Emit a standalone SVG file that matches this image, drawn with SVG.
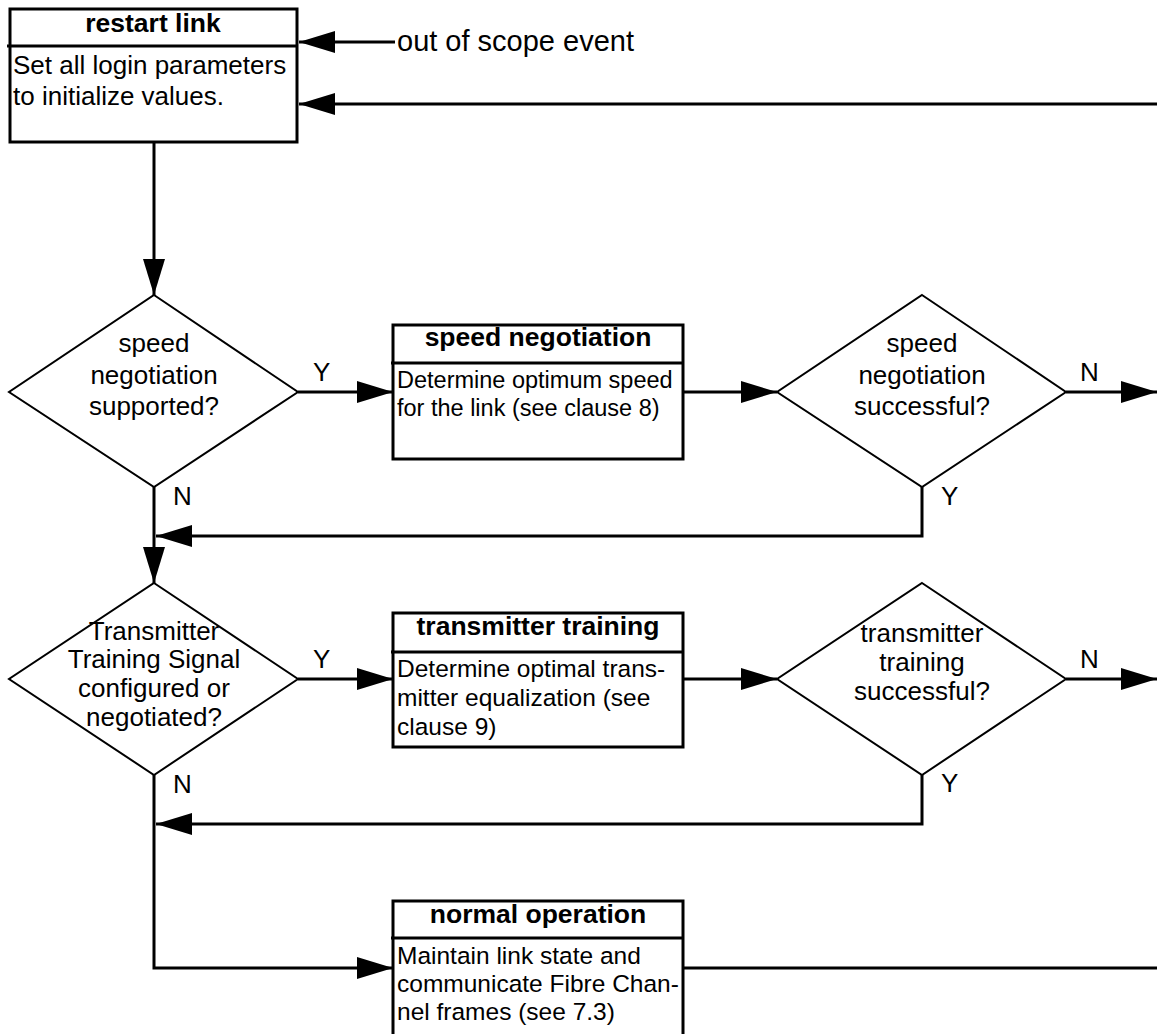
<svg xmlns="http://www.w3.org/2000/svg" width="1157" height="1034" viewBox="0 0 1157 1034">
  <style>
    text { font-family: "Liberation Sans", Arial, sans-serif; fill: #000; }
    .title { font-size: 26.5px; font-weight: bold; text-anchor: middle; }
    .body { font-size: 24.5px; }
    .dec { font-size: 26px; text-anchor: middle; }
    .lbl { font-size: 26px; }
    .box { fill: #fff; stroke: #000; stroke-width: 3; }
    .rule { stroke: #000; stroke-width: 3; }
    .diamond { fill: #fff; stroke: #000; stroke-width: 2; }
    .wire { fill: none; stroke: #000; stroke-width: 3; }
    .arrow { fill: none; stroke: #000; stroke-width: 3; marker-end: url(#head); }
  </style>
  <defs>
    <marker id="head" markerUnits="userSpaceOnUse" markerWidth="36" markerHeight="22" viewBox="0 0 36 22" refX="36" refY="11" orient="auto">
      <path d="M0,0 L36,11 L0,22 Z" fill="#000"/>
    </marker>
  </defs>

  <rect width="1157" height="1034" fill="#fff"/>

  <!-- connectors -->
  <g id="connectors">
    <line class="arrow" x1="395" y1="42" x2="299" y2="42"/>
    <line class="arrow" x1="1157" y1="104" x2="299" y2="104"/>
    <line class="arrow" x1="154" y1="143" x2="154" y2="295"/>
    <line class="arrow" x1="298" y1="392" x2="393" y2="392"/>
    <line class="arrow" x1="683" y1="392" x2="777" y2="392"/>
    <line class="arrow" x1="1066" y1="392" x2="1157" y2="392"/>
    <polyline class="arrow" points="922,487 922,536 156,536"/>
    <line class="arrow" x1="154" y1="487" x2="154" y2="583"/>
    <line class="arrow" x1="298" y1="679" x2="393" y2="679"/>
    <line class="arrow" x1="683" y1="679" x2="777" y2="679"/>
    <line class="arrow" x1="1066" y1="679" x2="1157" y2="679"/>
    <polyline class="arrow" points="922,775 922,824 156,824"/>
    <polyline class="arrow" points="154,775 154,968 393,968"/>
    <line class="wire" x1="683" y1="968" x2="1157" y2="968"/>

    <text class="lbl" x="397" y="51" style="font-size:29px">out of scope event</text>
    <text class="lbl" x="313" y="381">Y</text>
    <text class="lbl" x="173" y="505">N</text>
    <text class="lbl" x="1080" y="381">N</text>
    <text class="lbl" x="941" y="505">Y</text>
    <text class="lbl" x="313" y="668">Y</text>
    <text class="lbl" x="173" y="793">N</text>
    <text class="lbl" x="1080" y="668">N</text>
    <text class="lbl" x="941" y="792">Y</text>
  </g>

  <!-- restart link -->
  <g id="restart-link">
    <rect class="box" x="10" y="9" width="287" height="133"/>
    <line class="rule" x1="7" y1="46" x2="297" y2="46"/>
    <text class="title" x="153" y="32">restart link</text>
    <text class="body" x="13" y="74" style="font-size:26px">Set all login parameters</text>
    <text class="body" x="13" y="105" style="font-size:26px">to initialize values.</text>
  </g>

  <!-- speed negotiation supported? -->
  <g id="speed-supported">
    <polygon class="diamond" points="154,295 298,392 154,487 9,392"/>
    <text class="dec" x="154" y="352">speed</text>
    <text class="dec" x="154" y="384">negotiation</text>
    <text class="dec" x="154" y="415">supported?</text>
  </g>

  <!-- speed negotiation -->
  <g id="speed-negotiation">
    <rect class="box" x="393" y="325" width="290" height="134"/>
    <line class="rule" x1="391" y1="363" x2="683" y2="363"/>
    <text class="title" x="538" y="346">speed negotiation</text>
    <text class="body" x="397" y="388" style="font-size:23.5px">Determine optimum speed</text>
    <text class="body" x="397" y="416" style="font-size:23.5px">for the link (see clause 8)</text>
  </g>

  <!-- speed negotiation successful? -->
  <g id="speed-successful">
    <polygon class="diamond" points="922,295 1066,392 922,487 777,392"/>
    <text class="dec" x="922" y="352">speed</text>
    <text class="dec" x="922" y="384">negotiation</text>
    <text class="dec" x="922" y="415">successful?</text>
  </g>

  <!-- transmitter training signal configured? -->
  <g id="tts-configured">
    <polygon class="diamond" points="154,583 298,679 154,775 9,679"/>
    <text class="dec" x="154" y="640">Transmitter</text>
    <text class="dec" x="154" y="668">Training Signal</text>
    <text class="dec" x="154" y="697">configured or</text>
    <text class="dec" x="154" y="726">negotiated?</text>
  </g>

  <!-- transmitter training -->
  <g id="transmitter-training">
    <rect class="box" x="393" y="613" width="290" height="134"/>
    <line class="rule" x1="391" y1="652" x2="683" y2="652"/>
    <text class="title" x="538" y="635">transmitter training</text>
    <text class="body" x="397" y="677">Determine optimal trans-</text>
    <text class="body" x="397" y="706">mitter equalization (see</text>
    <text class="body" x="397" y="735">clause 9)</text>
  </g>

  <!-- transmitter training successful? -->
  <g id="training-successful">
    <polygon class="diamond" points="922,583 1066,679 922,775 777,679"/>
    <text class="dec" x="922" y="642">transmitter</text>
    <text class="dec" x="922" y="671">training</text>
    <text class="dec" x="922" y="700">successful?</text>
  </g>

  <!-- normal operation -->
  <g id="normal-operation">
    <rect class="box" x="393" y="901" width="290" height="150"/>
    <line class="rule" x1="391" y1="938" x2="683" y2="938"/>
    <text class="title" x="538" y="923">normal operation</text>
    <text class="body" x="397" y="964">Maintain link state and</text>
    <text class="body" x="397" y="992">communicate Fibre Chan-</text>
    <text class="body" x="397" y="1020">nel frames (see 7.3)</text>
  </g>
</svg>
